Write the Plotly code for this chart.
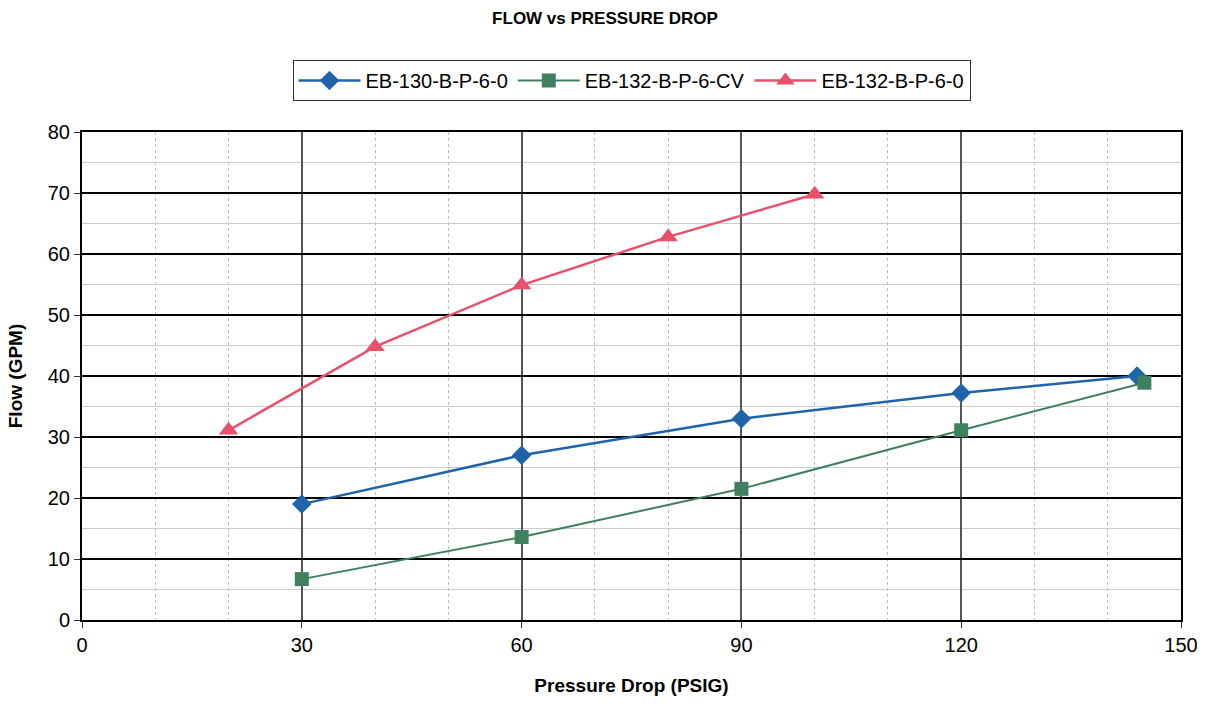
import plotly.graph_objects as go

# Data
x_eb130 = [30, 60, 90, 120, 144]
y_eb130 = [19.0, 27.0, 33.0, 37.2, 40.0]

x_eb132cv = [30, 60, 90, 120, 145]
y_eb132cv = [6.7, 13.6, 21.5, 31.1, 38.9]

x_eb132 = [20, 40, 60, 80, 100]
y_eb132 = [31.1, 44.8, 54.9, 62.8, 69.8]

FONT = "Liberation Sans, Arial, sans-serif"

fig = go.Figure()
fig.add_trace(go.Scatter(
    x=x_eb130, y=y_eb130, name="EB-130-B-P-6-0", mode="lines+markers",
    line=dict(color="#1f64a8", width=2.5),
    marker=dict(symbol="diamond", size=15, color="#1f64a8")))
fig.add_trace(go.Scatter(
    x=x_eb132cv, y=y_eb132cv, name="EB-132-B-P-6-CV", mode="lines+markers",
    line=dict(color="#3f8060", width=2),
    marker=dict(symbol="square", size=14, color="#3f8060")))
fig.add_trace(go.Scatter(
    x=x_eb132, y=y_eb132, name="EB-132-B-P-6-0", mode="lines+markers",
    line=dict(color="#e8506c", width=2.5),
    marker=dict(symbol="triangle-up", size=17, color="#e8506c")))

fig.update_layout(
    width=1210, height=706,
    margin=dict(l=82, r=27, t=132, b=86),
    paper_bgcolor="white", plot_bgcolor="white",
    font=dict(family=FONT, color="black", size=20),
    title=dict(text="<b>FLOW vs PRESSURE DROP</b>", x=0.5, xanchor="center",
               y=0.983, yanchor="top", font=dict(size=17, family=FONT)),
    legend=dict(orientation="h", x=0.5, xanchor="center", y=1.1475, yanchor="top",
                bordercolor="#333", borderwidth=1, font=dict(size=20, family=FONT),
                itemwidth=62, tracegroupgap=0),
    showlegend=True,
)

fig.update_xaxes(
    range=[0, 150], tick0=0, dtick=30, showline=True, linecolor="black", linewidth=2,
    mirror=True, ticks="outside", ticklen=6, tickcolor="#333",
    showgrid=True, gridcolor="#555", gridwidth=2, zeroline=False,
    minor=dict(dtick=10, tick0=0, showgrid=True, gridcolor="#bbb", griddash="dot", gridwidth=1),
    title=dict(text="<b>Pressure Drop (PSIG)</b>", font=dict(size=19, family=FONT), standoff=24),
    tickfont=dict(size=20),
)
fig.update_yaxes(
    range=[0, 80], tick0=0, dtick=10, showline=True, linecolor="black", linewidth=2,
    mirror=True, ticks="outside", ticklen=6, tickcolor="#333",
    showgrid=True, gridcolor="black", gridwidth=2, zeroline=False,
    minor=dict(dtick=5, tick0=0, showgrid=True, gridcolor="#ccc", gridwidth=1),
    title=dict(text="<b>Flow (GPM)</b>", font=dict(size=19, family=FONT), standoff=20),
    tickfont=dict(size=20),
)

fig.write_html("out.html")
